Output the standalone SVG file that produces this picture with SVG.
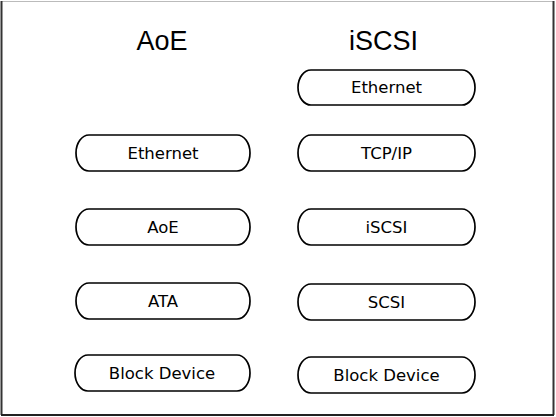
<svg xmlns="http://www.w3.org/2000/svg" width="556" height="417" viewBox="0 0 556 417">
<style>
.box{fill:#fff;stroke:#000;stroke-width:1.7}
.lbl{font-family:"DejaVu Sans",sans-serif;font-size:16.5px;fill:#000;text-anchor:middle}
.title{font-family:"Liberation Sans",Arial,sans-serif;font-size:27px;fill:#000;text-anchor:middle}
</style>
<rect width="556" height="417" fill="#fff"/>
<g id="frame" fill="none">
<line x1="1" y1="1.5" x2="554" y2="1.5" stroke="#bbb" stroke-width="1"/>
<line x1="1.5" y1="1" x2="1.5" y2="415" stroke="#333" stroke-width="2"/>
<line x1="553.5" y1="1" x2="553.5" y2="415" stroke="#333" stroke-width="2"/>
<line x1="1" y1="415" x2="554" y2="415" stroke="#222" stroke-width="2"/>
</g>
<g id="titles">
<text class="title" x="162" y="49.5">AoE</text>
<text class="title" x="383.5" y="49.5">iSCSI</text>
</g>
<g id="connectors"></g>
<g id="aoe-ethernet"><path class="box" d="M89,135 H237 A13,18 0 0 1 237,171 H89 A13,18 0 0 1 89,135 Z"/><text class="lbl" x="163" y="159">Ethernet</text></g>
<g id="aoe-aoe"><path class="box" d="M89,209 H237 A13,18 0 0 1 237,245 H89 A13,18 0 0 1 89,209 Z"/><text class="lbl" x="163" y="233">AoE</text></g>
<g id="aoe-ata"><path class="box" d="M89,283 H237 A13,18 0 0 1 237,319 H89 A13,18 0 0 1 89,283 Z"/><text class="lbl" x="163" y="307">ATA</text></g>
<g id="aoe-block"><path class="box" d="M88,355 H237 A13,18 0 0 1 237,391 H88 A13,18 0 0 1 88,355 Z"/><text class="lbl" x="162" y="379">Block Device</text></g>
<g id="iscsi-ethernet"><path class="box" d="M311,70 H462 A13,17.5 0 0 1 462,105 H311 A13,17.5 0 0 1 311,70 Z"/><text class="lbl" x="386.5" y="93">Ethernet</text></g>
<g id="iscsi-tcpip"><path class="box" d="M311,135 H462 A13,18 0 0 1 462,171 H311 A13,18 0 0 1 311,135 Z"/><text class="lbl" x="386.5" y="159">TCP/IP</text></g>
<g id="iscsi-iscsi"><path class="box" d="M311,209 H462 A13,18 0 0 1 462,245 H311 A13,18 0 0 1 311,209 Z"/><text class="lbl" x="386.5" y="233">iSCSI</text></g>
<g id="iscsi-scsi"><path class="box" d="M311,284 H462 A13,18 0 0 1 462,320 H311 A13,18 0 0 1 311,284 Z"/><text class="lbl" x="386.5" y="308">SCSI</text></g>
<g id="iscsi-block"><path class="box" d="M311,357 H462 A13,18 0 0 1 462,393 H311 A13,18 0 0 1 311,357 Z"/><text class="lbl" x="386.5" y="381">Block Device</text></g>
</svg>
